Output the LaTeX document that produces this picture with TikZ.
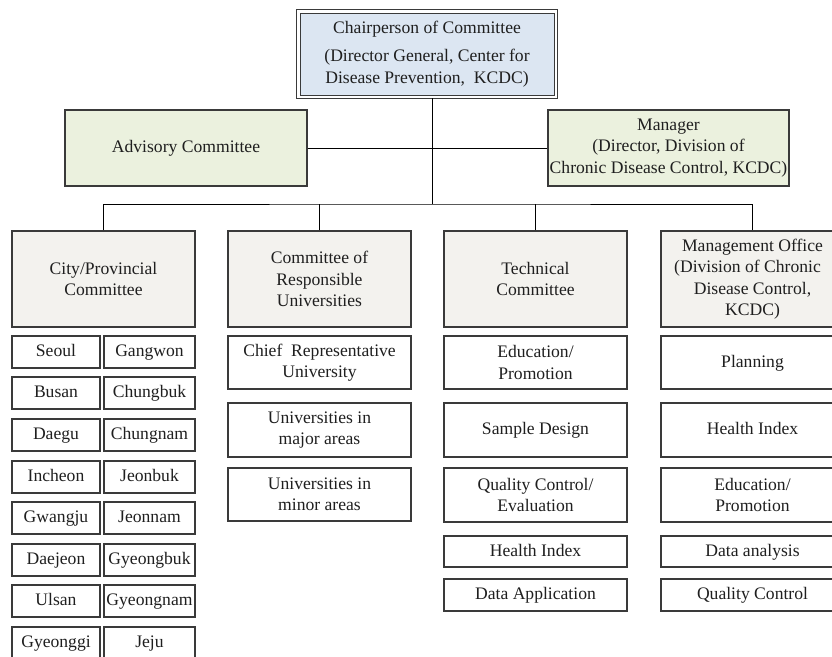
\documentclass[tikz,border=0pt]{standalone}
\usepackage{fontspec}
\setmainfont{Liberation Serif}
\definecolor{chairfill}{HTML}{DCE6F2}
\definecolor{greenfill}{HTML}{EBF1DE}
\definecolor{greyfill}{HTML}{F3F2EE}
\definecolor{edge}{HTML}{3A3A3A}
\begin{document}
\begin{tikzpicture}[x=1pt,y=-1pt,
  bx/.style={draw=edge, line width=1.2pt, inner sep=0pt, align=center,
    font=\fontsize{17.6}{21.5}\selectfont, text=black!88},
  chairbox/.style={bx, fill=chairfill, line width=1pt},
  greenbox/.style={bx, fill=greenfill},
  greybox/.style={bx, fill=greyfill},
  subbox/.style={bx, fill=white},
  onebox/.style={bx, fill=white, text height=12.5pt, text depth=3.5pt},
  conn/.style={draw=black, line width=1pt}]
\useasboundingbox (0,0) rectangle (832,656);
\clip (0,0) rectangle (832,656);
\newcommand{\bxat}[7]{\node[#6, minimum width={(#4-#2)*1pt}, minimum height={(#5-#3)*1pt}] (#1) at ({(#2+#4)/2},{(#3+#5)/2}) {#7};}
% top level
\bxat{chair}{300}{13}{554}{95}{chairbox}{Chairperson of Committee\\[7pt](Director General, Center for\\Disease Prevention,\ \ KCDC)}
\draw[draw=edge, line width=1pt] ([shift={(-2.6pt,2.6pt)}]chair.north west) rectangle ([shift={(2.6pt,-2.6pt)}]chair.south east);
\bxat{adv}{65}{110}{307}{186}{greenbox}{Advisory Committee}
\bxat{mgr}{548}{110}{789}{186}{greenbox}{Manager\\(Director, Division of\\Chronic Disease Control, KCDC)}
% level 2
\bxat{city}{12}{231}{195}{327}{greybox}{City/Provincial\\Committee}
\bxat{univ}{228}{231}{411}{327}{greybox}{Committee of\\Responsible\\Universities}
\bxat{tech}{444}{231}{627}{327}{greybox}{Technical\\Committee}
\bxat{mgmt}{661}{231}{844}{327}{greybox}{\hspace*{-10pt}Management Office\hspace*{-10pt}\\\hspace*{-10pt}(Division of Chronic\hspace*{-10pt}\\Disease Control,\\KCDC)}
% city rows
\bxat{c1l}{12}{336}{100}{368}{onebox}{Seoul}
\bxat{c1r}{104}{336}{195}{368}{onebox}{Gangwon}
\bxat{c2l}{12}{377}{100}{409}{onebox}{Busan}
\bxat{c2r}{104}{377}{195}{409}{onebox}{Chungbuk}
\bxat{c3l}{12}{419}{100}{451}{onebox}{Daegu}
\bxat{c3r}{104}{419}{195}{451}{onebox}{Chungnam}
\bxat{c4l}{12}{461}{100}{493}{onebox}{Incheon}
\bxat{c4r}{104}{461}{195}{493}{onebox}{Jeonbuk}
\bxat{c5l}{12}{502}{100}{534}{onebox}{Gwangju}
\bxat{c5r}{104}{502}{195}{534}{onebox}{Jeonnam}
\bxat{c6l}{12}{544}{100}{576}{onebox}{Daejeon}
\bxat{c6r}{104}{544}{195}{576}{onebox}{Gyeongbuk}
\bxat{c7l}{12}{585}{100}{617}{onebox}{Ulsan}
\bxat{c7r}{104}{585}{195}{617}{onebox}{\hspace*{-6pt}Gyeongnam\hspace*{-6pt}}
\bxat{c8l}{12}{627}{100}{659}{onebox}{Gyeonggi}
\bxat{c8r}{104}{627}{195}{659}{onebox}{Jeju}
% universities
\bxat{u1}{228}{336}{411}{389}{subbox}{Chief\ \ Representative\\University}
\bxat{u2}{228}{403}{411}{457}{subbox}{Universities in\\major areas}
\bxat{u3}{228}{468}{411}{521}{subbox}{Universities in\\minor areas}
% technical
\bxat{t1}{444}{336}{627}{389}{subbox}{Education/\\Promotion}
\bxat{t2}{444}{403}{627}{457}{onebox}{Sample Design}
\bxat{t3}{444}{468}{627}{522}{subbox}{Quality Control/\\Evaluation}
\bxat{t4}{444}{536}{627}{567}{onebox}{Health Index}
\bxat{t5}{444}{579}{627}{611}{onebox}{Data Application}
% management
\bxat{m1}{661}{336}{844}{389}{onebox}{Planning}
\bxat{m2}{661}{403}{844}{457}{onebox}{Health Index}
\bxat{m3}{661}{468}{844}{522}{subbox}{Education/\\Promotion}
\bxat{m4}{661}{536}{844}{567}{onebox}{Data analysis}
\bxat{m5}{661}{579}{844}{611}{onebox}{Quality Control}
% connectors
\coordinate (bus) at (432,204);
\draw[conn] ([yshift=-2.6pt]chair.south -| bus) -- (bus);
\draw[conn] (adv.east) -- (mgr.west |- adv.east);
\draw[conn] (city.north) |- (bus) -| (mgmt.north);
\draw[conn] (univ.north) -- (univ.north |- bus);
\draw[conn] (tech.north) -- (tech.north |- bus);
\end{tikzpicture}
\end{document}
